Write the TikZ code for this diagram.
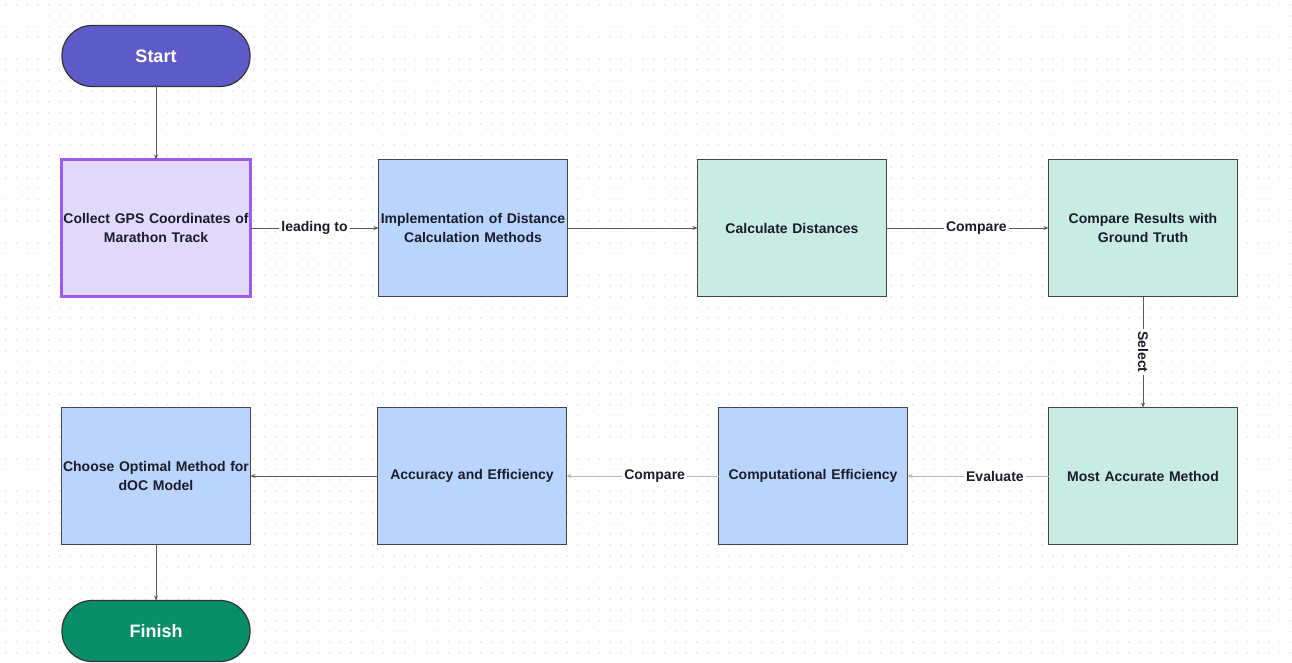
\documentclass[tikz,border=0pt]{standalone}
\usepackage{fontspec}
\setmainfont{Liberation Sans}
\usetikzlibrary{arrows.meta, positioning}

\definecolor{startfill}{HTML}{5E5AC8}
\definecolor{finishfill}{HTML}{078D67}
\definecolor{lavender}{HTML}{E2DAFD}
\definecolor{violet}{HTML}{9C5DEE}
\definecolor{skyblue}{HTML}{B9D5FC}
\definecolor{mint}{HTML}{C8ECE2}
\definecolor{boxline}{HTML}{454545}
\definecolor{inkdark}{HTML}{1B1B2C}
\definecolor{linedark}{HTML}{5A5A5A}
\definecolor{linelight}{HTML}{B5B5B5}
\definecolor{dotgrey}{HTML}{E4E4E4}

\begin{document}
\begin{tikzpicture}[
                > = {Stealth[length=5pt, width=4pt]}, % arrow head style
                x = 1pt, y = 1pt,
                node distance = 128pt, % distance between nodes
                font = \fontsize{14}{19.5}\selectfont\bfseries
            ]

            \tikzstyle{stepbox}=[
            draw = boxline,
            line width = 1.3pt,
            outer sep = 0pt,
            minimum width = 189pt,
            minimum height = 137pt,
            text width = 187pt,
            inner sep = 1pt,
            align = center,
            text = inkdark
            ]
            \tikzstyle{pill}=[
            draw = black!80,
            line width = 1.2pt,
            outer sep = 0pt,
            rounded corners = 30pt,
            minimum width = 188pt,
            minimum height = 61pt,
            text = white,
            font = \fontsize{18}{21}\selectfont\bfseries
            ]
            \tikzstyle{link}=[->, draw = linedark, line width = 1pt]
            \tikzstyle{linklight}=[->, draw = linelight, line width = 1pt]
            \tikzstyle{tag}=[fill = white, inner sep = 2pt, text = inkdark]

            \useasboundingbox (0,0) rectangle (1292,-663);

            % dotted canvas, one dashed row per line of dots
            \foreach \j in {0,...,61} {
                \draw[dotgrey, line width = 1.8pt, line cap = round,
                    dash pattern = on 0.1pt off 10.7pt]
                    (5.5,-5-10.8*\j) -- (1292,-5-10.8*\j);
            }

            \node (start) [pill, fill = startfill] at (156,-56) {Start};
            \node (collect) [stepbox, below=73pt of start, fill = lavender,
                draw = violet, line width = 2.6pt]
                {Collect GPS Coordinates of\\Marathon Track};
            \node (impl) [stepbox, right=128pt of collect, fill = skyblue]
                {Implementation of Distance\\Calculation Methods};
            \node (calc) [stepbox, right=130pt of impl, fill = mint]
                {Calculate Distances};
            \node (results) [stepbox, right=162pt of calc, fill = mint]
                {Compare Results with\\Ground Truth};
            \node (best) [stepbox, below=111pt of results, fill = mint]
                {Most Accurate Method};
            \node (comp) [stepbox, left=141pt of best, fill = skyblue]
                {Computational Efficiency};
            \node (acc) [stepbox, left=152pt of comp, fill = skyblue]
                {Accuracy and Efficiency};
            \node (choose) [stepbox, left=127pt of acc, fill = skyblue]
                {Choose Optimal Method for\\dOC Model};
            \node (finish) [pill, below=56pt of choose, fill = finishfill] {Finish};

            \draw[link] (start) -- (collect);
            \draw[link] (collect) -- node[tag] {leading to} (impl);
            \draw[link] (impl) -- (calc);
            \draw[link] (calc) -- node[tag, pos=0.555] {Compare} (results);
            \draw[link] (results) -- node[tag, rotate=-90] {Select} (best);
            \draw[linklight] (best) -- node[tag, pos=0.38] {Evaluate} (comp);
            \draw[linklight] (comp) -- node[tag, pos=0.42] {Compare} (acc);
            \draw[link] (acc) -- (choose);
            \draw[link] (choose) -- (finish);
        \end{tikzpicture}
\end{document}
